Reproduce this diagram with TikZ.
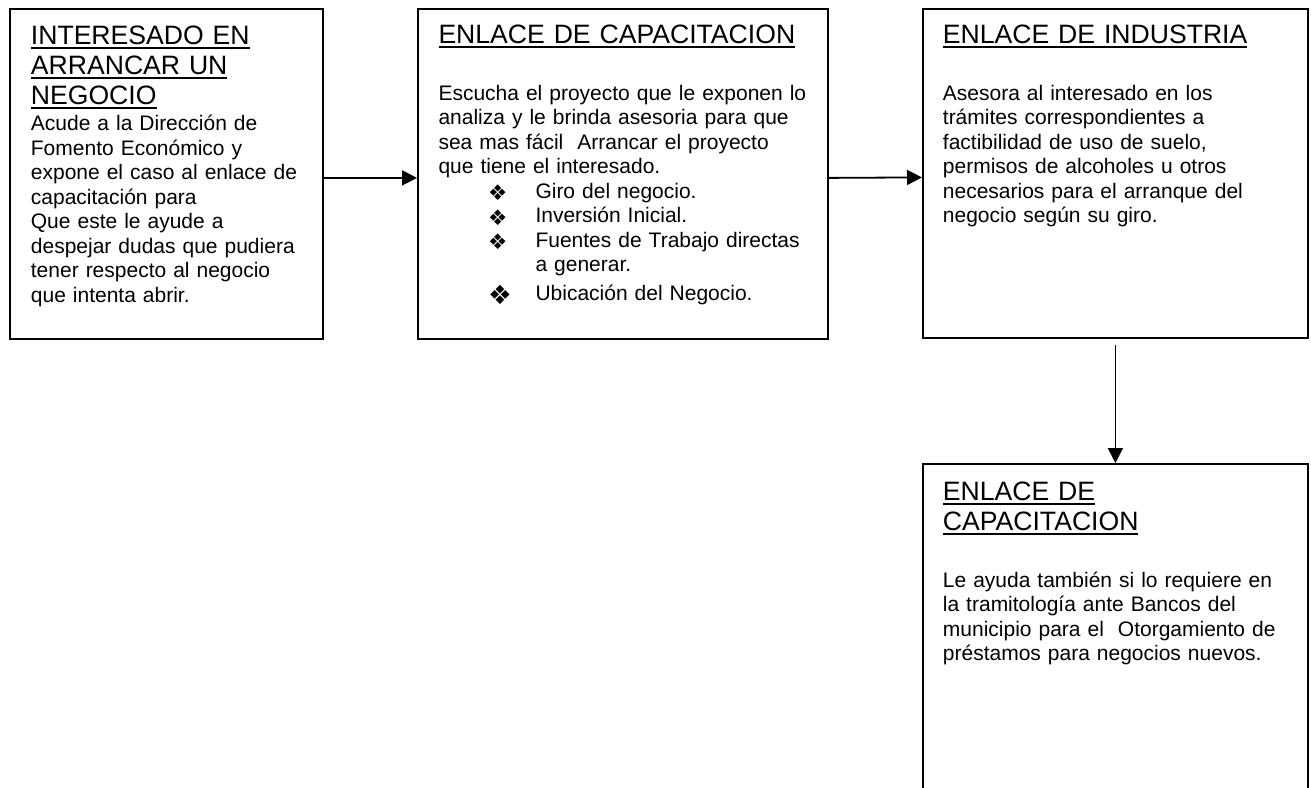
\documentclass[tikz,border=0pt]{standalone}
\usepackage{fontspec}
\setmainfont{Liberation Sans}
\newfontfamily\dingfont{DejaVu Sans}
\usetikzlibrary{arrows.meta}
% underlined heading line
\newcommand{\ttlul}[1]{\leavevmode\setbox0=\hbox{#1}\rlap{\rule[-4.5pt]{\wd0}{1.5pt}}\box0}
% indented list bullet of a given size, centred on the math axis
\newcommand{\itembul}[1]{\leavevmode\hspace*{49.7pt}\makebox[47.3pt][l]{$\vcenter{\hbox{\dingfont\fontsize{#1}{#1}\selectfont ❖}}$}}
\begin{document}
\begin{tikzpicture}[x=1pt,y=-1pt,
  box/.style={draw, line width=1.8pt, inner sep=0pt, anchor=north west},
  ttl/.style={inner sep=0pt, anchor=base west, text width=400pt, align=left,
    font=\fontsize{26.6}{30}\selectfont},
  txt/.style={inner sep=0pt, anchor=base west, text width=400pt, align=left,
    font=\fontsize{21}{24.5}\selectfont},
  flow/.style={line width=1.8pt, -{Triangle[length=15pt,width=15pt]}}]
\useasboundingbox (0,0) rectangle (1311,787);
\clip (0,0) rectangle (1311,787);

% boxes
\node[box, minimum width=313pt, minimum height=330pt] (b1) at (9,8) {};
\node[box, minimum width=410pt, minimum height=330pt] (b2) at (417,8) {};
\node[box, minimum width=385pt, minimum height=329pt] (b3) at (922,8) {};
\node[box, minimum width=385pt, minimum height=340pt] (b4) at (922,463) {};

% box 1
\node[ttl] (t1) at (30.7,44) {\ttlul{INTERESADO EN}\\ \ttlul{ARRANCAR UN}\\ \ttlul{NEGOCIO}};
\node[txt] (x1) at (30.7,130.6) {Acude a la Dirección de\\ Fomento Económico y\\ expone el caso al enlace de\\ capacitación para\\ Que este le ayude a\\ despejar dudas que pudiera\\ tener respecto al negocio\\ que intenta abrir.};

% box 2
\node[ttl] (t2) at (438.3,43) {\ttlul{ENLACE DE CAPACITACION}};
\node[txt] (x2) at (438.3,100) {Escucha el proyecto que le exponen lo\\ analiza y le brinda asesoria para que\\ sea mas fácil\ \ Arrancar el proyecto\\ que tiene el interesado.\\
  \itembul{21.5}Giro del negocio.\\
  \itembul{21.5}Inversión Inicial.\\
  \itembul{21.5}Fuentes de Trabajo directas\\
  \hspace*{97pt}a generar.\\[4.5pt]
  \itembul{26.5}Ubicación del Negocio.};

% box 3
\node[ttl] (t3) at (942.7,43) {\ttlul{ENLACE DE INDUSTRIA}};
\node[txt] (x3) at (942.7,100) {Asesora al interesado en los\\ trámites correspondientes a\\ factibilidad de uso de suelo,\\ permisos de alcoholes u otros\\ necesarios para el arranque del\\ negocio según su giro.};

% box 4
\node[ttl] (t4) at (942.7,500) {\ttlul{ENLACE DE}\\ \ttlul{CAPACITACION}};
\node[txt] (x4) at (942.7,587) {Le ayuda también si lo requiere en\\ la tramitología ante Bancos del\\ municipio para el\ \ Otorgamiento de\\ préstamos para negocios nuevos.};

% connectors
\draw[flow] ([yshift=-4pt]b1.east) -- ([yshift=-4pt]b2.west);
\draw[flow] ([yshift=-4pt]b2.east) -- ([yshift=-4pt]b3.west);
\draw[flow] ([yshift=-6pt]b3.south) -- (b4.north);
\end{tikzpicture}
\end{document}
